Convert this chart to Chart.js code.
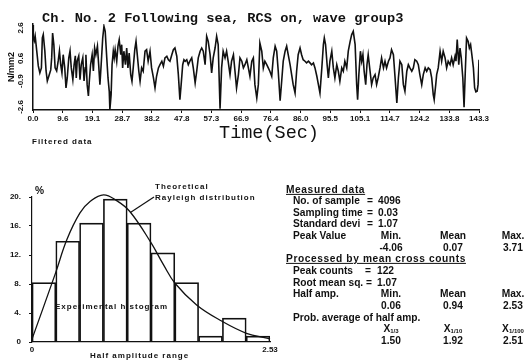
<!DOCTYPE html>
<html>
<head>
<meta charset="utf-8">
<script src="https://cdn.jsdelivr.net/npm/chart.js@4.4.1/dist/chart.umd.min.js"></script>
<style>
  html, body { margin: 0; padding: 0; background: #fff; }
  #page { position: relative; width: 524px; height: 361px; overflow: hidden; background: #fff; color: #111; }
  canvas { position: absolute; left: 0; }
  .t { position: absolute; white-space: nowrap; line-height: 1; transform: translateY(-50%);
       font-family: "Liberation Sans", Arial, sans-serif; font-weight: bold; color: #111; }
  .c { transform: translate(-50%, -50%); }
  .title { font-family: "Liberation Mono", monospace; font-size: 13.7px; }
  .axis { font-family: "Liberation Mono", monospace; font-weight: normal; font-size: 18.5px; }
  .small { font-size: 8px; letter-spacing: 1px; }
  .stat { font-size: 10.2px; }
  .ul { text-decoration: underline; letter-spacing: 0.6px; }
  sub { font-size: 6px; vertical-align: -1px; }
</style>
</head>
<body>
<div id="page">
  <canvas id="waveChart" width="524" height="126" style="top:0"></canvas>
  <canvas id="histChart" width="290" height="191" style="top:170px"></canvas>
</div>
<script>
// time series (Ch. No. 2), seconds / N/mm2
const waveTime = [
  0.0,0.1,0.4,0.7,1.2,1.7,2.2,2.7,3.0,3.3,
  3.8,4.2,4.6,5.1,5.7,6.0,6.3,6.7,7.1,7.6,
  8.1,8.5,8.9,9.3,9.7,10.2,10.6,11.0,11.5,11.9,
  12.3,12.8,13.2,13.6,13.9,14.2,14.7,15.1,15.5,16.0,
  16.4,16.8,17.0,17.4,17.8,18.1,18.5,19.0,19.4,19.8,
  20.2,20.7,21.1,21.5,21.9,22.4,22.8,23.2,23.7,24.1,
  24.5,24.7,25.1,25.4,25.8,26.1,26.4,26.9,27.3,27.7,
  28.2,28.5,28.8,29.2,29.7,30.1,30.5,30.9,31.4,31.8,
  32.2,32.7,33.1,33.5,34.0,34.4,34.9,35.4,36.0,36.5,
  37.0,37.6,38.1,38.7,39.2,39.7,40.3,40.8,41.4,41.9,
  42.4,43.0,43.5,44.0,44.6,45.1,45.6,46.2,46.7,47.2,
  47.6,48.1,48.5,48.9,49.4,49.9,50.4,51.0,51.5,52.1,
  52.6,53.1,53.7,54.2,54.7,55.3,55.8,56.3,56.9,57.4,
  57.9,58.5,59.0,59.5,60.1,60.6,61.1,61.7,62.2,62.7,
  63.3,63.8,64.4,64.9,65.4,66.0,66.5,67.1,67.6,68.1,
  68.7,69.2,69.7,70.3,70.8,71.3,71.9,72.4,72.9,73.5,
  74.0,74.5,75.1,75.6,76.1,76.7,77.2,77.8,78.3,78.8,
  79.4,79.9,80.4,81.0,81.5,82.0,82.6,83.1,83.6,84.2,
  84.7,85.2,85.8,86.3,86.8,87.4,87.9,88.5,89.0,89.5,
  90.1,90.6,91.2,91.7,92.2,92.8,93.3,93.6,94.0,94.5,
  94.9,95.4,96.0,96.5,97.0,97.6,98.1,98.6,99.2,99.7,
  100.2,100.8,101.3,101.9,102.4,102.9,103.5,104.0,104.3,104.7,
  105.2,105.6,106.0,106.4,106.9,107.3,107.7,108.3,108.8,109.3,
  109.9,110.4,110.9,111.5,112.0,112.6,113.1,113.6,114.2,114.7,
  115.2,115.8,116.3,116.9,117.4,117.9,118.5,119.0,119.5,120.1,
  120.6,121.1,121.7,122.2,122.7,123.3,123.8,124.3,124.9,125.4,
  126.0,126.5,127.0,127.6,128.1,128.6,128.9,129.4,129.7,130.2,
  130.8,131.3,131.8,132.4,132.9,133.4,134.0,134.5,135.0,135.6,
  135.9,136.3,136.8,137.2,137.6,138.1,138.5,138.9,139.3,139.8,
  140.2,140.6,141.0,141.5,141.9,142.3,142.7,143.0,143.3
];
const waveValue = [
  2.80,1.94,1.74,2.07,1.09,0.10,-0.36,-0.03,1.94,2.16,
  1.09,-0.23,-0.89,-0.56,-0.16,0.63,2.27,1.50,-0.03,-0.23,
  0.43,1.09,0.18,-0.36,0.84,-0.03,-1.35,-0.69,0.63,1.09,
  -0.03,-0.80,0.18,0.76,-0.69,0.43,0.76,-0.80,0.18,0.63,
  -0.89,-0.03,0.84,-1.13,-1.88,-0.89,0.18,0.84,-0.23,1.28,
  0.84,1.40,0.18,-1.13,0.18,1.94,2.71,2.38,0.63,-0.69,
  -1.57,-2.78,-1.79,0.18,1.07,0.63,1.17,0.41,1.40,1.83,
  0.84,1.50,-0.03,1.07,0.18,1.28,-0.03,0.95,-0.47,-0.91,
  -0.03,1.17,1.72,0.84,-0.25,-0.91,-0.03,-0.25,1.07,1.17,
  0.41,1.07,-0.03,-0.69,-1.35,-0.58,-0.03,0.18,0.41,0.08,
  0.63,0.74,0.51,0.41,0.84,1.17,1.28,0.74,-0.47,-2.12,
  -1.13,0.18,0.51,0.41,0.51,0.18,0.41,0.63,-0.03,-1.02,
  -0.25,0.63,1.07,1.28,1.07,0.18,2.05,1.72,0.84,-0.36,
  0.63,1.28,2.05,1.50,-2.71,-0.03,1.07,0.63,1.07,0.41,
  -0.47,0.41,0.84,-0.25,-1.35,-0.47,0.63,0.41,-0.03,0.18,
  0.51,-0.03,-0.58,0.41,0.63,-1.13,-2.01,-1.13,1.61,1.07,
  -0.03,0.41,0.18,-0.03,-0.25,-0.58,0.63,1.40,1.07,-0.25,
  -2.19,-0.91,0.41,1.07,1.40,0.84,0.18,-0.47,-1.13,-1.68,
  -0.25,0.84,1.28,0.84,0.51,0.41,0.30,0.41,0.30,0.18,
  0.30,-0.03,-0.58,-1.13,-1.68,-0.03,1.50,1.94,1.50,0.18,
  -0.69,0.41,1.07,-0.03,-0.69,0.18,-0.25,-0.91,-0.03,-0.25,
  0.41,-0.03,1.07,1.72,2.16,2.38,1.50,-1.13,-2.12,-0.47,
  1.07,0.41,0.84,-0.25,-1.13,0.18,0.84,-0.25,-1.13,-0.69,
  -0.47,-1.13,-0.69,-0.03,0.63,-0.03,0.41,-0.03,0.41,0.63,
  1.17,0.84,-0.58,-2.34,-0.69,0.41,0.18,-1.13,-1.57,-0.25,
  0.18,-0.03,-0.25,-0.03,0.51,0.41,0.18,-0.47,-1.13,-0.47,
  -0.03,-0.25,-0.03,-0.15,-0.69,-1.79,-2.12,-1.13,-0.47,-0.03,
  1.07,0.41,1.07,0.63,-0.03,0.41,0.18,0.63,0.18,0.74,
  0.41,1.83,0.18,1.28,0.63,-0.69,-2.62,-0.25,1.94,1.72,
  1.28,1.50,0.84,-0.03,-1.35,-1.61,-1.57,-1.13,0.51
];
const xTickValues = [0.0,9.6,19.1,28.7,38.2,47.8,57.3,66.9,76.4,86.0,95.5,105.1,114.7,124.2,133.8,143.3];
const xTickLabels = ['0.0','9.6','19.1','28.7','38.2','47.8','57.3','66.9','76.4','86.0','95.5','105.1','114.7','124.2','133.8','143.3'];
const yTickValues = [2.6, 0.6, -0.9, -2.6];
const yTickLabels = ['2.6', '0.6', '-0.9', '-2.6'];

// half amplitude histogram (%), 10 bins over 0 - 2.53
const binCentre = [0.1265,0.3795,0.6325,0.8855,1.1385,1.3915,1.6445,1.8975,2.1505,2.4035];
const binPercent = [8.2,13.9,16.4,19.7,16.4,12.3,8.2,0.8,3.3,0.8];
// theoretical Rayleigh curve
const curveX = [0,0.25,0.37,0.51,0.62,0.76,0.90,1.04,1.26,1.40,1.52,1.75,2.00,2.28,2.51,2.53];
const curveY = [0.4,9.5,14.1,17.8,19.4,20.3,19.5,18.0,13.8,10.6,8.1,5.1,3.0,1.2,0.5,0.4];
const histXTicks = [0, 2.53];
const histXLabels = ['0', '2.53'];
const histYTicks = [0, 4, 8, 12, 16, 20];
const histYLabels = ['0', '4.', '8.', '12.', '16.', '20.'];

// stats text
const peakValue = ['-4.06', '0.07', '3.71'];
const halfAmp = ['0.06', '0.94', '2.53'];
const probAverage = ['1.50', '1.92', '2.51'];

const ink = '#111';
const tickFont = { family: 'Liberation Sans', weight: 'bold', size: 8 };

// y labels of the time plot are written upright (rotated)
const rotatedYTicks = {
  id: 'rotatedYTicks',
  afterDraw(chart) {
    const s = chart.scales.y, ctx = chart.ctx;
    ctx.save();
    ctx.font = 'bold 8px "Liberation Sans"';
    ctx.fillStyle = ink;
    ctx.textAlign = 'center';
    ctx.textBaseline = 'middle';
    yTickValues.forEach((v, i) => {
      ctx.save();
      ctx.translate(s.right - 12, s.getPixelForValue(v));
      ctx.rotate(-Math.PI / 2);
      ctx.fillText(yTickLabels[i], 0, 0);
      ctx.restore();
    });
    ctx.restore();
  }
};

new Chart(document.getElementById('waveChart'), {
  type: 'line',
  data: {
    datasets: [{
      data: waveTime.map((t, i) => ({ x: t, y: waveValue[i] })),
      borderColor: ink,
      borderWidth: 1.6,
      pointRadius: 0,
      tension: 0,
      fill: false
    }]
  },
  options: {
    responsive: false,
    animation: false,
    devicePixelRatio: 1,
    layout: { padding: { left: 0, right: 45, top: 24, bottom: 0 } },
    plugins: { legend: { display: false }, tooltip: { enabled: false } },
    scales: {
      x: {
        type: 'linear', min: 0, max: 143.3,
        afterFit(s) { s.height = 16; },
        afterBuildTicks(s) { s.ticks = xTickValues.map(v => ({ value: v })); },
        ticks: { autoSkip: false, maxRotation: 0, padding: 1, color: ink, font: tickFont,
                 callback: (v, i) => xTickLabels[i] },
        grid: { drawOnChartArea: false, tickLength: 3, color: ink },
        border: { display: true, color: ink, width: 1.5 }
      },
      y: {
        min: -2.80, max: 2.86,
        afterFit(s) { s.width = 33; },
        afterBuildTicks(s) { s.ticks = yTickValues.map(v => ({ value: v })); },
        ticks: { display: false },
        grid: { display: false },
        border: { display: true, color: ink, width: 1.5 },
        title: { display: true, text: 'N/mm2', color: ink,
                 font: { family: 'Liberation Sans', weight: 'bold', size: 9 },
                 padding: { top: 6, bottom: 0 } }
      }
    }
  },
  plugins: [rotatedYTicks]
});

// pointer from the "Theoretical Rayleigh distribution" label to the curve
const curvePointer = {
  id: 'curvePointer',
  afterDraw(chart) {
    const ctx = chart.ctx;
    const ex = chart.scales.x.getPixelForValue(1.05);
    const ey = chart.scales.y.getPixelForValue(17.9);
    ctx.save();
    ctx.strokeStyle = ink;
    ctx.lineWidth = 1.2;
    ctx.beginPath();
    ctx.moveTo(154, 27);
    ctx.lineTo(ex, ey);
    ctx.stroke();
    ctx.restore();
  }
};

new Chart(document.getElementById('histChart'), {
  type: 'bar',
  data: {
    datasets: [
      {
        type: 'line',
        data: curveX.map((x, i) => ({ x: x, y: curveY[i] })),
        borderColor: ink,
        borderWidth: 1.3,
        pointRadius: 0,
        tension: 0.4,
        clip: false,
        order: 0
      },
      {
        type: 'bar',
        data: binCentre.map((x, i) => ({ x: x, y: binPercent[i] })),
        backgroundColor: 'rgba(255,255,255,0)',
        borderColor: ink,
        borderWidth: 1,
        categoryPercentage: 1,
        barPercentage: 1,
        order: 1
      }
    ]
  },
  options: {
    responsive: false,
    animation: false,
    devicePixelRatio: 1,
    layout: { padding: { left: 0, right: 20, top: 27, bottom: 0 } },
    plugins: { legend: { display: false }, tooltip: { enabled: false } },
    scales: {
      x: {
        type: 'linear', min: 0, max: 2.53, offset: false,
        afterFit(s) { s.height = 19; },
        afterBuildTicks(s) { s.ticks = histXTicks.map(v => ({ value: v })); },
        ticks: { autoSkip: false, maxRotation: 0, padding: -5, color: ink, font: tickFont,
                 callback: (v, i) => histXLabels[i] },
        grid: { display: false },
        border: { display: true, color: ink, width: 1.2 }
      },
      y: {
        min: 0, max: 20,
        afterFit(s) { s.width = 32; },
        afterBuildTicks(s) { s.ticks = histYTicks.map(v => ({ value: v })); },
        ticks: { padding: 8, color: ink, font: tickFont, callback: (v, i) => histYLabels[i] },
        grid: { drawOnChartArea: false, tickLength: 3, color: ink },
        border: { display: true, color: ink, width: 1.2 }
      }
    }
  },
  plugins: [curvePointer]
});

// free text
const page = document.getElementById('page');
function put(html, x, y, cls) {
  const d = document.createElement('div');
  d.className = 't ' + (cls || '');
  d.innerHTML = html;
  d.style.left = x + 'px';
  d.style.top = y + 'px';
  page.appendChild(d);
}
put('Ch. No. 2 Following sea, RCS on, wave group3', 42, 18.5, 'title');
put('Time(Sec)', 269, 134, 'axis c');
put('Filtered data', 32, 142, 'small');
put('%', 35, 191, 'stat');
put('Theoretical', 155, 187, 'small');
put('Rayleigh distribution', 155, 198, 'small');
put('Experimental histogram', 55, 307, 'small');
put('Half amplitude range', 90, 356, 'small');

const row = i => 189.5 + 11.65 * i;
const col = [391, 453, 513];
put('Measured data', 286, row(0), 'stat ul');
put('No. of sample', 293, row(1), 'stat'); put('=', 367, row(1), 'stat'); put('4096', 378, row(1), 'stat');
put('Sampling time', 293, row(2), 'stat'); put('=', 367, row(2), 'stat'); put('0.03', 378, row(2), 'stat');
put('Standard devi', 293, row(3), 'stat'); put('=', 367, row(3), 'stat'); put('1.07', 378, row(3), 'stat');
put('Peak Value', 293, row(4), 'stat');
['Min.', 'Mean', 'Max.'].forEach((s, i) => put(s, col[i], row(4), 'stat c'));
peakValue.forEach((s, i) => put(s, col[i], row(5), 'stat c'));
put('Processed by mean cross counts', 286, row(6), 'stat ul');
put('Peak counts', 293, row(7), 'stat'); put('=', 365, row(7), 'stat'); put('122', 377, row(7), 'stat');
put('Root mean sq.', 293, row(8), 'stat'); put('=', 366, row(8), 'stat'); put('1.07', 377, row(8), 'stat');
put('Half amp.', 293, row(9), 'stat');
['Min.', 'Mean', 'Max.'].forEach((s, i) => put(s, col[i], row(9), 'stat c'));
halfAmp.forEach((s, i) => put(s, col[i], row(10), 'stat c'));
put('Prob. average of half amp.', 293, row(11), 'stat');
['X<sub>1/3</sub>', 'X<sub>1/10</sub>', 'X<sub>1/100</sub>'].forEach((s, i) => put(s, col[i], row(12), 'stat c'));
probAverage.forEach((s, i) => put(s, col[i], row(13), 'stat c'));
</script>
</body>
</html>
